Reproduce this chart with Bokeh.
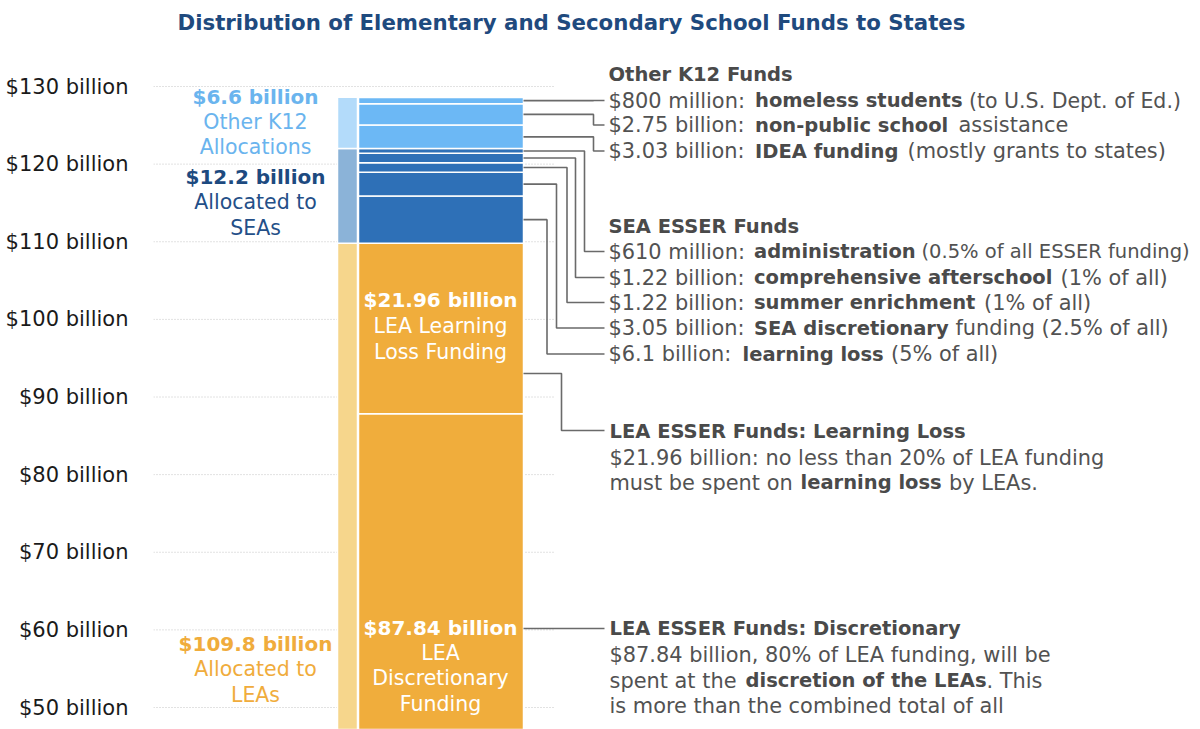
from bokeh.plotting import figure
from bokeh.models import Range1d, FixedTicker, ColumnDataSource
from bokeh.core.properties import value
from bokeh.embed import file_html
from bokeh.resources import INLINE

# ---------------- data ----------------
TITLE = "Distribution of Elementary and Secondary School Funds to States"

fund_names = ["LEA Discretionary", "LEA Learning Loss", "SEA Learning Loss",
              "SEA Discretionary", "Summer Enrichment", "Comprehensive Afterschool",
              "SEA Administration", "IDEA Funding", "Non-public School Assistance",
              "Homeless Students"]
fund_values = [87.84, 21.96, 6.1, 3.05, 1.22, 1.22, 0.61, 3.03, 2.75, 0.80]
fund_groups = ["LEA", "LEA", "SEA", "SEA", "SEA", "SEA", "SEA", "K12", "K12", "K12"]

group_names = ["LEAs", "SEAs", "Other K12"]
group_values = [109.8, 12.2, 6.6]

y_ticks = [50, 60, 70, 80, 90, 100, 110, 120, 130]
tick_labels = ["$50 billion", "$60 billion", "$70 billion", "$80 billion", "$90 billion",
               "$100 billion", "$110 billion", "$120 billion", "$130 billion"]

# ---------------- styles / layout ----------------
FONT = value("DejaVu Sans")
main_colors = {"LEA": "#f0ad3c", "SEA": "#2e70b7", "K12": "#6cb8f5"}
side_colors = ["#f6d68c", "#8bb3d8", "#b3dbfa"]
NAVY = "#1f4a7e"
GREY = "#525252"
LINE = "#6a6a6a"
PX_PER_B = 7.7625
W, H = 1200, 729


def yv(sy):
    """screen pixel row -> value on the billions scale"""
    return 130 - (sy - 86) / PX_PER_B


p = figure(width=W, height=H, x_range=Range1d(153, W),
           y_range=Range1d(yv(H), yv(0)), x_axis_type=None,
           output_backend="svg", toolbar_location=None,
           min_border_left=153, min_border_right=0, min_border_top=0,
           min_border_bottom=0, outline_line_color=None)
p.grid.visible = False
ax = p.yaxis[0]
ax.ticker = FixedTicker(ticks=y_ticks)
ax.major_label_overrides = {t: lab for t, lab in zip(y_ticks, tick_labels)}
ax.axis_line_color = None
ax.major_tick_line_color = None
ax.minor_tick_line_color = None
ax.major_tick_out = 0
ax.major_tick_in = 0
ax.minor_tick_out = 0
ax.minor_tick_in = 0
ax.major_label_standoff = 25
ax.major_label_text_font = "DejaVu Sans"
ax.major_label_text_font_size = "21px"
ax.major_label_text_color = "#1a1a1a"

# dotted grid lines
p.segment(x0=[153] * len(y_ticks), x1=[555] * len(y_ticks), y0=y_ticks, y1=y_ticks,
          line_color="#c4c4c4", line_width=1, line_dash="1 2")

# ---------------- bars ----------------
tops, bottoms, acc = [], [], 0.0
for v in fund_values:
    bottoms.append(acc)
    acc += v
    tops.append(acc)
main_src = ColumnDataSource(dict(bottom=bottoms, top=tops,
                                 color=[main_colors[g] for g in fund_groups],
                                 name=fund_names))
p.vbar(x=440.5, width=165, bottom="bottom", top="top", fill_color="color",
       line_color="white", line_width=1.5, source=main_src)

gt, gb, acc = [], [], 0.0
for v in group_values:
    gb.append(acc)
    acc += v
    gt.append(acc)
p.vbar(x=347, width=20, bottom=gb, top=gt, fill_color=side_colors,
       line_color="white", line_width=1.5)

# ---------------- connectors ----------------
centers = [(b + t) / 2 for b, t in zip(bottoms, tops)]
# item index -> (elbow x, text row)
conn = [(9, 593, 100), (8, 593, 124.5), (7, 593, 150.5),
        (6, 584, 251), (5, 575, 277), (4, 566.5, 302), (3, 556, 327.5),
        (2, 546.5, 353.5)]
xs, ys = [], []
for i, ex, ty in conn:
    xs.append([523, ex, ex, 604])
    ys.append([centers[i], centers[i], yv(ty), yv(ty)])
xs.append([523, 561, 561, 604])
ys.append([yv(373), yv(373), yv(430), yv(430)])
xs.append([523, 604])
ys.append([yv(628), yv(628)])
p.multi_line(xs=xs, ys=ys, line_color=LINE, line_width=1.6)


# ---------------- texts ----------------
def txt(x, sy, s, size, bold=False, color=GREY, align="left"):
    p.text(x=[x], y=[yv(sy)], text=[s], text_font=FONT, text_font_size=size,
           text_font_style="bold" if bold else "normal", text_color=color,
           text_align=align, text_baseline="middle")


txt(571, 22, TITLE, "21.3px", True, NAVY, "center")

# left group labels
txt(255, 96, "$6.6 billion", "20px", True, "#6ab4ee", "center")
txt(255, 121, "Other K12", "20.5px", False, "#6ab4ee", "center")
txt(255, 146, "Allocations", "20.5px", False, "#6ab4ee", "center")
txt(255, 176, "$12.2 billion", "20px", True, "#1d4a80", "center")
txt(255, 201, "Allocated to", "20.5px", False, "#244f88", "center")
txt(255, 227, "SEAs", "20.5px", False, "#244f88", "center")
txt(255, 643, "$109.8 billion", "20px", True, "#f0ac3c", "center")
txt(255, 668, "Allocated to", "20.5px", False, "#f0ac3c", "center")
txt(255, 694, "LEAs", "20.5px", False, "#f0ac3c", "center")

# in-bar labels
txt(440, 299, "$21.96 billion", "20px", True, "white", "center")
txt(440, 325, "LEA Learning", "20.5px", False, "white", "center")
txt(440, 351, "Loss Funding", "20.5px", False, "white", "center")
txt(440, 627, "$87.84 billion", "20px", True, "white", "center")
txt(440, 652, "LEA", "20.5px", False, "white", "center")
txt(440, 677, "Discretionary", "20.5px", False, "white", "center")
txt(440, 703, "Funding", "20.5px", False, "white", "center")

# right annotations: (row, [(x, text, bold, size or None), ...])
REG, BLD = "20.9px", "19.5px"
lines = [
    (74, [(608, "Other K12 Funds", True, None)]),
    (100, [(608, "$800 million: ", False, None), (754.5, "homeless students", True, None),
           (968.5, "(to U.S. Dept. of Ed.)", False, "20.5px")]),
    (124.5, [(608, "$2.75 billion: ", False, None), (754.5, "non-public school", True, None),
             (958, "assistance", False, None)]),
    (150.5, [(608, "$3.03 billion: ", False, None), (754.5, "IDEA funding", True, None),
             (907, "(mostly grants to states)", False, None)]),
    (226, [(608, "SEA ESSER Funds", True, None)]),
    (251, [(608, "$610 million: ", False, None), (753.5, "administration", True, None),
           (921, "(0.5% of all ESSER funding)", False, "19.5px")]),
    (277, [(608, "$1.22 billion: ", False, None), (753.5, "comprehensive afterschool", True, None),
           (1060, "(1% of all)", False, None)]),
    (302, [(608, "$1.22 billion: ", False, None), (753.5, "summer enrichment", True, None),
           (983.5, "(1% of all)", False, None)]),
    (327.5, [(608, "$3.05 billion: ", False, None), (753.5, "SEA discretionary", True, None),
             (955, "funding (2.5% of all)", False, None)]),
    (353.5, [(608, "$6.1 billion: ", False, None), (742, "learning loss", True, None),
             (890.5, "(5% of all)", False, None)]),
    (431, [(609, "LEA ESSER Funds: Learning Loss", True, None)]),
    (457, [(609, "$21.96 billion: no less than 20% of LEA funding", False, None)]),
    (482, [(609, "must be spent on ", False, None), (800, "learning loss", True, None),
           (948.5, "by LEAs.", False, None)]),
    (628, [(609, "LEA ESSER Funds: Discretionary", True, None)]),
    (654, [(609, "$87.84 billion, 80% of LEA funding, will be", False, None)]),
    (680, [(609, "spent at the ", False, None), (745, "discretion of the LEAs", True, None),
           (986, ". This", False, None)]),
    (705, [(609, "is more than the combined total of all", False, None)]),
]
for row, segs in lines:
    for x, s, b, sz in segs:
        txt(x, row, s, sz or (BLD if b else REG), b, "#4a4a4a" if b else GREY)

open("out.html", "w").write(file_html(p, INLINE))
